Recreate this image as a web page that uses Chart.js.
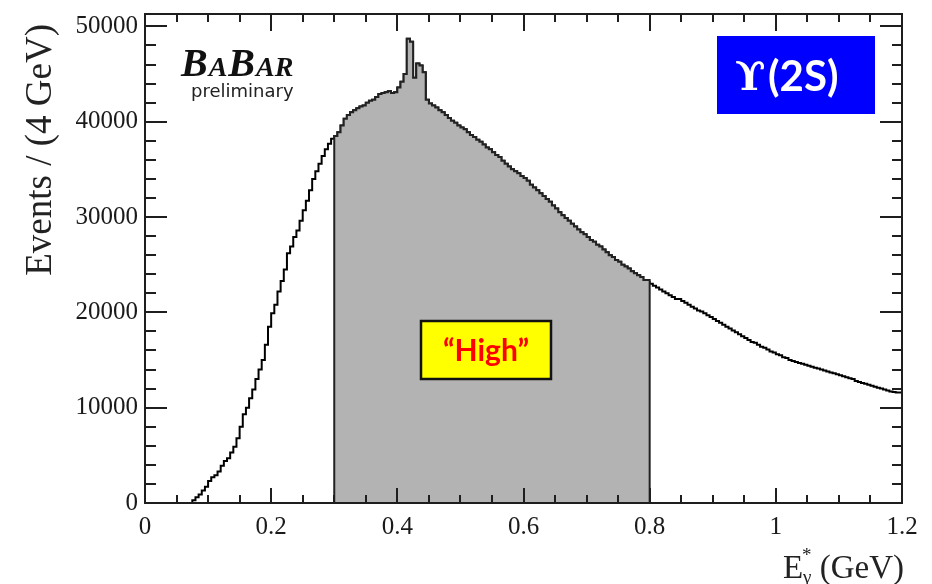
<!DOCTYPE html>
<html>
<head>
<meta charset="utf-8">
<script src="https://cdn.jsdelivr.net/npm/chart.js@4.4.1/dist/chart.umd.min.js"></script>
<style>
  body { margin: 0; background: #fff; }
</style>
</head>
<body>
<canvas id="spectrum" width="932" height="584"></canvas>
<script>
// histogram of E*gamma, 5 MeV bins from 0 to 1.2 GeV
const binWidth = 0.005;
const counts = [
  0, 0, 0, 0, 0, 0, 0, 0, 0, 0,
  0, 0, 0, 0, 0, 0, 300, 600, 900, 1300,
  1700, 2300, 2700, 2900, 3300, 3900, 4400, 4700, 5300, 5900,
  6800, 8000, 9300, 10000, 11000, 11900, 13000, 14000, 15000, 16600,
  18500, 19900, 20800, 22200, 23300, 24500, 26200, 26900, 27900, 28600,
  29600, 30700, 31700, 32800, 34000, 34800, 35600, 36400, 37100, 37700,
  38200, 38500, 38900, 39600, 40300, 40700, 41000, 41200, 41400, 41600,
  41700, 42000, 42200, 42300, 42600, 42900, 43000, 43100, 43200, 43000,
  43100, 43600, 44200, 45000, 48700, 48400, 44600, 46100, 45900, 45200,
  42300, 41900, 41700, 41500, 41200, 41000, 40700, 40400, 40100, 39900,
  39600, 39400, 39200, 38900, 38600, 38400, 38100, 37900, 37600, 37300,
  37100, 36800, 36500, 36300, 35900, 35600, 35300, 35000, 34800, 34600,
  34300, 34100, 33800, 33400, 33100, 32800, 32500, 32200, 31900, 31600,
  31200, 30900, 30500, 30200, 29900, 29600, 29300, 29000, 28700, 28400,
  28200, 27900, 27600, 27400, 27100, 26900, 26600, 26300, 26000, 25800,
  25500, 25300, 25000, 24800, 24600, 24300, 24100, 23900, 23700, 23400,
  23200, 23000, 22800, 22600, 22400, 22200, 22000, 21800, 21600, 21400,
  21400, 21200, 21000, 20800, 20600, 20400, 20200, 20100, 19900, 19700,
  19500, 19300, 19100, 18900, 18700, 18500, 18300, 18100, 17900, 17700,
  17500, 17300, 17100, 16900, 16800, 16600, 16400, 16300, 16100, 15900,
  15800, 15600, 15500, 15300, 15200, 15000, 14900, 14800, 14700, 14600,
  14500, 14400, 14300, 14200, 14100, 14000, 13900, 13800, 13700, 13600,
  13500, 13400, 13300, 13200, 13100, 13000, 12800, 12700, 12600, 12500,
  12400, 12300, 12200, 12100, 12000, 11900, 11800, 11700, 11650, 11600
];
const xTicks = [0, 0.2, 0.4, 0.6, 0.8, 1, 1.2];
const yTicks = [0, 10000, 20000, 30000, 40000, 50000];
const xMax = 1.2;
const yMax = 51300;
const highLo = 0.3;
const highHi = 0.8;

// step points: left bin edge -> count
const histPoints = counts.map((c, i) => ({ x: +(i * binWidth).toFixed(3), y: c }));
histPoints.push({ x: xMax, y: counts[counts.length - 1] });

const inHigh = histPoints.filter(p => p.x >= highLo - 1e-9 && p.x < highHi - 1e-9);
const highPoints = [{ x: highLo, y: 0 }].concat(inHigh);
highPoints.push({ x: highHi, y: inHigh[inHigh.length - 1].y }, { x: highHi, y: 0 });

const tickFont = { family: 'Liberation Serif', size: 25 };

// ROOT-style frame: box with inward ticks on all sides, plus labels
const rootFrame = {
  id: 'rootFrame',
  afterDatasetsDraw(chart) {
    const { ctx, chartArea: a, scales: { x, y } } = chart;
    ctx.save();
    ctx.strokeStyle = '#1e1e1e';
    ctx.lineWidth = 2;
    ctx.strokeRect(a.left, a.top, a.right - a.left, a.bottom - a.top);

    ctx.beginPath();
    for (let v = 0; v <= xMax + 1e-9; v += 0.05) {
      const px = Math.round(x.getPixelForValue(v));
      const major = xTicks.some(t => Math.abs(t - v) < 1e-6);
      const lb = major ? 15 : 8, lt = major ? 17 : 8;
      ctx.moveTo(px, a.bottom); ctx.lineTo(px, a.bottom - lb);
      ctx.moveTo(px, a.top); ctx.lineTo(px, a.top + lt);
    }
    for (let v = 0; v <= yMax; v += 2000) {
      const py = Math.round(y.getPixelForValue(v));
      const major = yTicks.includes(v);
      const ll = major ? 22 : 11, lr = major ? 22 : 10;
      ctx.moveTo(a.left, py); ctx.lineTo(a.left + ll, py);
      ctx.moveTo(a.right, py); ctx.lineTo(a.right - lr, py);
    }
    ctx.stroke();

    // yellow "High" box
    ctx.fillStyle = '#ffff00';
    ctx.fillRect(421, 321, 130, 58);
    ctx.lineWidth = 2.5;
    ctx.strokeStyle = '#111';
    ctx.strokeRect(421, 321, 130, 58);
    ctx.fillStyle = '#ff0000';
    ctx.font = 'bold 30px Lato';
    ctx.textAlign = 'center';
    ctx.textBaseline = 'alphabetic';
    ctx.fillText('\u201CHigh\u201D', 486, 361);

    // Upsilon(2S) box
    ctx.fillStyle = '#0000ff';
    ctx.fillRect(717, 36, 158, 78);
    ctx.fillStyle = '#ffffff';
    ctx.textAlign = 'left';
    ctx.font = 'bold 40px "DejaVu Serif"';
    ctx.fillText('\u03D2', 735, 90);
    ctx.font = 'bold 42px Lato';
    ctx.fillText('(2S)', 768, 91);

    // BABAR logo
    ctx.fillStyle = '#111';
    let bx = 181;
    [['B', 40], ['A', 28], ['B', 40], ['AR', 28]].forEach(([s, sz]) => {
      ctx.font = 'italic bold ' + sz + 'px "Liberation Serif"';
      ctx.fillText(s, bx, 76);
      bx += ctx.measureText(s).width + 1;
    });
    ctx.font = '18px "DejaVu Sans"';
    ctx.fillStyle = '#222';
    ctx.fillText('preliminary', 191, 97);

    // axis titles
    ctx.fillStyle = '#222';
    ctx.font = '33px "Liberation Serif"';
    ctx.textAlign = 'right';
    ctx.fillText('(GeV)', 904, 578);
    const gw = ctx.measureText(' (GeV)').width;
    ctx.font = '19px "Liberation Serif"';
    ctx.fillText('\u03B3', 904 - gw, 583);
    ctx.fillText('*', 904 - gw, 561);
    const sw = ctx.measureText('\u03B3').width;
    ctx.font = '33px "Liberation Serif"';
    ctx.fillText('E', 904 - gw - sw, 578);

    ctx.font = '37px "Liberation Serif"';
    ctx.translate(51, 24);
    ctx.rotate(-Math.PI / 2);
    ctx.textAlign = 'right';
    ctx.fillText('Events / (4 GeV)', 0, 0);
    ctx.restore();
  }
};

new Chart(document.getElementById('spectrum'), {
  type: 'line',
  data: {
    datasets: [
      {
        label: 'High',
        data: highPoints,
        stepped: 'after',
        fill: 'origin',
        backgroundColor: '#b3b3b3',
        borderColor: '#222',
        borderWidth: 2,
        pointRadius: 0
      },
      {
        label: 'Events',
        data: histPoints,
        stepped: 'after',
        fill: false,
        borderColor: '#000',
        borderWidth: 2,
        pointRadius: 0
      }
    ]
  },
  options: {
    responsive: false,
    animation: false,
    layout: { padding: { top: 14, right: 30, left: 0, bottom: 0 } },
    plugins: { legend: { display: false }, tooltip: { enabled: false } },
    scales: {
      x: {
        type: 'linear',
        min: 0,
        max: xMax,
        grid: { display: false, drawTicks: false, tickLength: 0 },
        border: { display: false },
        afterBuildTicks: s => { s.ticks = xTicks.map(v => ({ value: v })); },
        afterFit: s => { s.height = 81; s.paddingLeft = 0; s.paddingRight = 0; },
        ticks: {
          font: tickFont,
          color: '#1a1a1a',
          padding: 9,
          autoSkip: false,
          maxRotation: 0,
          callback: v => String(+v.toFixed(1))
        }
      },
      y: {
        min: 0,
        max: yMax,
        grid: { display: false, drawTicks: false, tickLength: 0 },
        border: { display: false },
        afterBuildTicks: s => { s.ticks = yTicks.map(v => ({ value: v })); },
        afterFit: s => { s.width = 145; s.paddingTop = 0; s.paddingBottom = 0; },
        ticks: {
          font: tickFont,
          color: '#1a1a1a',
          padding: 7,
          callback: v => String(v)
        }
      }
    }
  },
  plugins: [rootFrame]
});
</script>
</body>
</html>
